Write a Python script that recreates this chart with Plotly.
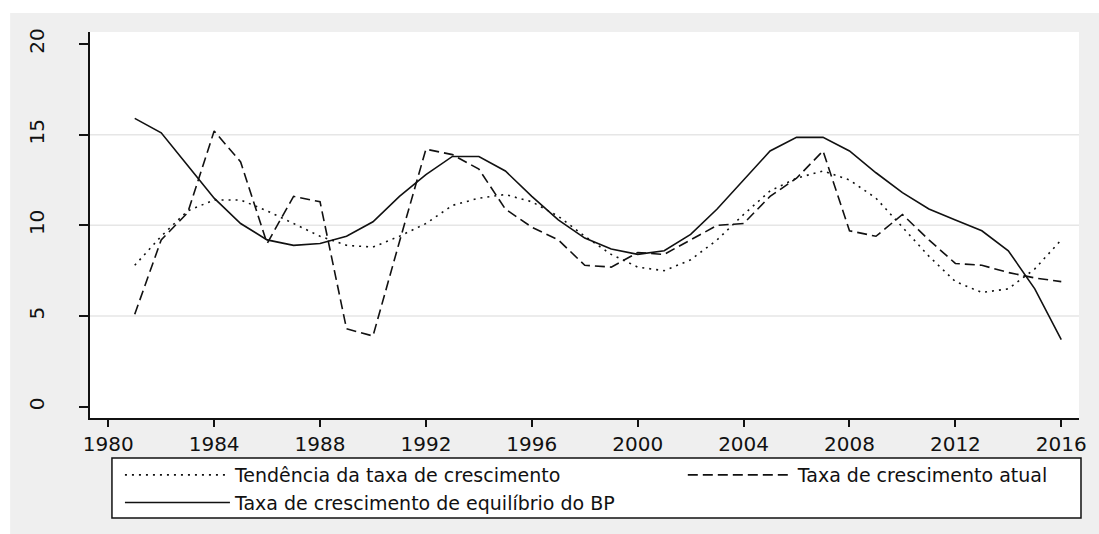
import plotly.graph_objects as go

years = list(range(1981, 2017))

# Tendência da taxa de crescimento (dotted)
tendencia = [7.8, 9.4, 10.8, 11.4, 11.4, 10.8, 10.1, 9.4, 8.9, 8.8,
             9.4, 10.1, 11.1, 11.5, 11.7, 11.3, 10.5, 9.4, 8.4, 7.7,
             7.5, 8.1, 9.2, 10.6, 11.9, 12.6, 13.0, 12.5, 11.5, 9.9,
             8.3, 6.9, 6.3, 6.5, 7.6, 9.2]

# Taxa de crescimento atual (dashed)
atual = [5.1, 9.2, 10.7, 15.2, 13.5, 9.0, 11.6, 11.3, 4.3, 3.9,
         9.1, 14.2, 13.9, 13.1, 10.9, 9.9, 9.2, 7.8, 7.7, 8.5,
         8.4, 9.2, 10.0, 10.1, 11.6, 12.6, 14.1, 9.7, 9.4, 10.6,
         9.2, 7.9, 7.8, 7.4, 7.1, 6.9]

# Taxa de crescimento de equilíbrio do BP (solid)
equilibrio = [15.9, 15.1, 13.3, 11.5, 10.1, 9.2, 8.9, 9.0, 9.4, 10.2,
              11.6, 12.8, 13.8, 13.8, 13.0, 11.6, 10.3, 9.3, 8.7, 8.4,
              8.6, 9.5, 10.9, 12.5, 14.1, 14.85, 14.85, 14.1, 12.9, 11.8,
              10.9, 10.3, 9.7, 8.6, 6.5, 3.7]

x_ticks = list(range(1980, 2017, 4))
y_ticks = [0, 5, 10, 15, 20]
grid_vals = [5, 10, 15]

FONT = "DejaVu Sans"
INK = "#111111"
BG = "#efefef"

# body margin is removed below, so figure pixels == page pixels
W, H = 1099, 534
L, R, T, B = 90, 18, 32, 116
pw, ph = W - L - R, H - T - B


def px_x(fx):
    return (fx - L) / pw


def px_y(fy):
    return (H - B - fy) / ph


fig = go.Figure()
fig.add_trace(go.Scatter(x=years, y=tendencia, mode="lines",
                         name="Tendência da taxa de crescimento",
                         legendgroup="a", legend="legend",
                         line=dict(color=INK, width=1.6, dash="2px,5px")))
fig.add_trace(go.Scatter(x=years, y=atual, mode="lines",
                         name="Taxa de crescimento atual",
                         legendgroup="b", legend="legend2",
                         line=dict(color=INK, width=1.6, dash="10px,5px")))
fig.add_trace(go.Scatter(x=years, y=equilibrio, mode="lines",
                         name="Taxa de crescimento de equilíbrio do BP",
                         legendgroup="c", legend="legend",
                         line=dict(color=INK, width=1.6)))

for v in grid_vals:
    fig.add_hline(y=v, line=dict(color="#e6e6e6", width=1.5), layer="below")

# white strips above and left of the grey graph region
fig.add_shape(type="rect", xref="paper", yref="paper", layer="below",
              x0=-1, x1=2, y0=px_y(13), y1=2,
              fillcolor="white", line=dict(width=0))
fig.add_shape(type="rect", xref="paper", yref="paper", layer="below",
              x0=-1, x1=px_x(10), y0=-1, y1=2,
              fillcolor="white", line=dict(width=0))
# legend frame
fig.add_shape(type="rect", xref="paper", yref="paper", layer="below",
              x0=px_x(112), x1=px_x(1083), y0=px_y(518), y1=px_y(458),
              fillcolor="white", line=dict(color=INK, width=1.5))

legend_common = dict(
    orientation="v",
    xanchor="left", yanchor="top",
    y=px_y(456),
    bgcolor="rgba(0,0,0,0)", borderwidth=0,
    font=dict(family=FONT, size=19, color=INK),
    itemwidth=105,
    tracegroupgap=3,
    traceorder="normal",
)

fig.update_layout(
    width=W, height=H,
    margin=dict(l=L, r=R, t=T, b=B),
    paper_bgcolor=BG,
    plot_bgcolor="white",
    font=dict(family=FONT, color=INK, size=20),
    showlegend=True,
    legend=dict(x=px_x(120), **legend_common),
    legend2=dict(x=px_x(684), **legend_common),
    xaxis=dict(
        range=[1979.31, 2016.67],
        tickvals=x_ticks,
        ticks="outside", ticklen=7, tickwidth=1.5, tickcolor=INK,
        showline=True, linecolor=INK, linewidth=1.8,
        showgrid=False, zeroline=False,
        tickfont=dict(size=20),
    ),
    yaxis=dict(
        range=[-0.62, 20.66],
        tickvals=y_ticks,
        tickangle=-90,
        ticks="outside", ticklen=9, tickwidth=1.5, tickcolor=INK,
        showline=True, linecolor=INK, linewidth=1.8,
        showgrid=False, zeroline=False,
        ticklabelstandoff=27,
        tickfont=dict(size=20),
    ),
)

# drop the default page margin so the figure fills the window exactly
fig.write_html(
    "out.html",
    config={"displayModeBar": False},
    post_script=(
        "document.body.style.margin='0';"
        "document.body.style.overflow='hidden';"
        "document.documentElement.style.overflow='hidden';"
    ),
)
